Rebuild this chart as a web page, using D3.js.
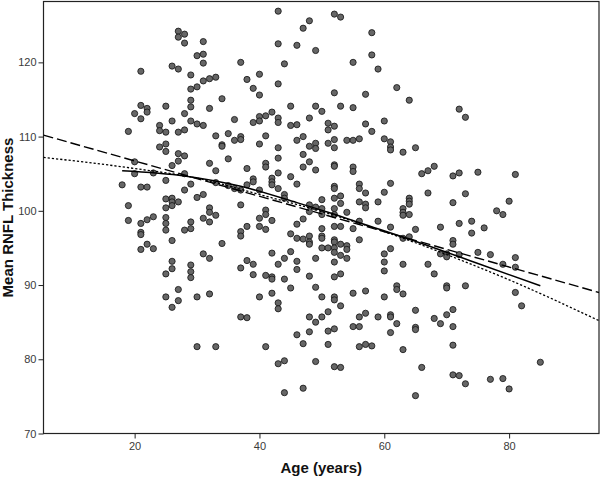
<!DOCTYPE html>
<html>
<head>
<meta charset="utf-8">
<script src="https://cdn.jsdelivr.net/npm/d3@7"></script>
<style>
  body { margin: 0; background: #fff; }
  svg { display: block; }
</style>
</head>
<body>
<div id="chart"></div>
<script>
// scatter data: age (years) and mean RNFL thickness
const ages = [
  27,27,28,28,31,30,31,31,21,26,27,29,30,29,31,32,33,34,29,29,32,21,22,22,20,21,25,28,26,24,24,25,27,28,29,30,31,36,19,33,35,34,34,25,36,
  43,48,47,52,53,58,43,46,49,37,44,55,58,59,40,38,43,39,40,52,57,62,64,45,49,50,53,55,42,40,41,43,43,39,40,48,45,46,51,52,51,57,60,58,41,37,37,46,47,49,48,51,52,54,55,56,60,61,40,
  72,73,
  24,25,27,28,27,26,20,20,23,32,33,35,18,21,22,25,28,29,28,33,35,36,30,31,25,26,26,27,26,25,19,32,32,33,31,32,25,25,23,22,21,19,21,21,25,29,29,28,26,22,23,21,34,31,32,26,26,25,29,29,29,
  43,49,52,61,61,63,65,43,41,41,38,47,48,47,49,52,52,55,55,43,45,46,39,39,42,42,42,38,37,40,43,44,44,52,52,53,53,52,56,56,57,56,57,57,59,60,61,66,67,67,64,64,64,63,63,64,63,
  37,37,37,38,41,41,40,42,40,41,45,46,47,48,48,48,46,47,48,48,49,50,50,50,52,52,54,52,53,55,56,50,50,50,56,59,61,65,63,64,52,52,53,54,54,50,51,52,52,53,54,52,49,46,46,45,44,42,43,42,42,41,44,48,52,53,38,39,39,37,60,61,60,60,63,67,62,62,57,
  68,71,72,75,81,71,73,80,78,79,69,72,74,74,76,71,71,69,70,70,72,75,77,81,79,81,68,
  27,25,27,26,30,32,30,33,
  45,49,40,42,43,43,37,38,50,52,52,53,55,60,63,48,49,50,51,56,57,59,61,61,65,46,48,51,52,55,56,61,62,65,65,41,47,51,56,57,58,63,43,44,49,52,53,47,44,65,
  70,70,73,81,82,71,70,68,69,71,71,66,71,72,73,77,79,80,85
];
const thickness = [
  124.2,123.4,123.8,122.6,122.8,120.9,121.1,119.9,118.8,119.5,119.1,118.3,116.7,116.4,117.5,117.8,118.0,115.1,114.9,114.0,113.8,114.2,113.8,113.3,113.1,112.4,114.1,113.1,112.1,111.5,110.8,110.6,110.6,110.9,112.1,111.7,111.5,112.3,110.7,110.1,110.4,108.9,108.7,109.0,109.5,
  126.9,125.6,124.6,126.5,126.1,124.0,122.5,122.3,121.6,120.0,119.8,120.0,121.0,119.1,118.4,117.7,117.1,116.5,115.6,115.9,115.7,116.6,114.9,114.1,114.1,113.4,114.1,113.9,113.3,112.7,112.8,112.5,111.9,111.9,112.1,112.5,111.5,111.6,111.8,111.4,110.9,111.7,112.1,110.7,110.1,110.0,109.6,109.5,110.0,109.1,108.7,109.1,109.6,109.5,109.5,109.7,109.7,109.3,109.0,
  113.7,112.6,
  108.6,108.0,107.7,107.4,106.7,106.1,106.6,105.0,105.1,106.4,105.4,107.0,103.5,103.2,103.2,104.1,105.0,103.6,102.8,103.8,103.4,103.0,101.8,102.2,101.6,101.7,101.2,101.2,100.7,100.4,100.7,100.4,99.8,99.4,99.0,98.5,99.1,98.3,99.2,98.8,98.3,98.7,97.1,96.8,97.4,98.5,97.6,97.4,96.0,95.5,94.9,94.8,95.6,94.2,93.6,93.2,92.2,91.5,92.7,91.8,91.0,
  108.5,108.4,108.5,108.6,108.2,107.9,108.5,107.1,106.4,105.9,105.7,107.6,106.6,105.9,105.5,106.2,106.0,105.9,105.3,105.1,104.6,103.6,104.3,103.9,104.4,103.9,103.5,103.5,102.8,102.8,103.0,102.2,101.7,103.3,103.0,102.0,101.0,101.7,103.6,103.0,102.4,101.2,100.9,100.4,101.2,102.5,103.7,105.0,105.4,102.4,101.7,101.3,100.9,100.3,99.8,99.5,99.4,
  100.8,97.2,96.6,97.9,100.1,99.5,99.0,98.7,97.9,97.5,96.9,96.3,96.2,96.6,95.8,95.5,98.2,98.9,100.8,99.9,100.5,101.5,100.3,99.5,100.3,99.5,99.8,97.9,97.9,97.6,98.6,97.6,96.6,96.3,96.1,98.6,97.8,97.5,96.3,96.5,96.1,95.8,95.5,95.3,94.8,95.0,95.0,95.0,94.4,94.0,93.6,93.1,93.6,93.2,92.1,94.5,93.6,94.3,92.8,91.1,90.8,91.3,90.8,91.2,91.1,91.5,93.3,92.8,91.4,92.3,94.2,94.9,93.1,91.9,92.8,92.8,89.9,89.4,89.2,
  106.0,104.7,105.1,105.2,104.9,101.1,102.3,101.3,100.0,99.5,97.8,98.3,98.6,97.0,97.7,96.0,95.5,94.2,94.2,93.8,94.1,94.4,94.1,93.7,92.8,92.4,91.5,
  89.4,88.4,87.9,87.0,88.4,88.8,81.7,81.7,
  89.6,89.7,88.4,88.9,87.6,86.8,85.7,85.6,88.4,88.4,88.0,87.2,88.9,88.4,88.8,85.7,85.0,85.7,86.4,85.7,86.2,85.7,86.0,85.7,86.6,83.3,83.7,83.8,84.1,84.4,84.4,83.6,84.8,84.3,84.0,81.7,82.1,82.0,81.7,82.0,81.8,81.3,79.4,79.8,79.7,79.0,78.9,76.1,75.5,75.1,
  89.9,89.6,89.9,89.0,87.2,86.7,86.0,85.5,84.8,84.4,81.9,78.9,77.9,77.8,76.7,77.3,77.4,76.0,79.6
];

// fit lines, points
const linearAge = [5.4, 94.4];
const linearVal = [110.2, 89.0];
const quadAge = [5.4, 20, 30, 40, 50, 60, 70, 80, 94.4];
const quadVal = [107.2, 105.7, 104.4, 102.2, 99.9, 97.2, 94.1, 90.7, 85.2];
const loessAge = [18, 28, 37, 46, 51, 56, 66, 75, 85];
const loessVal = [105.4, 104.7, 103.3, 101.1, 99.8, 98.4, 95.6, 92.9, 89.9];

// axis ticks
const xTicks = [20, 40, 60, 80];
const yTicks = [70, 80, 90, 100, 110, 120];
const xDomain = [5.4, 94.4];
const yDomain = [70, 128.2];

const W = 600, H = 480;
const plot = {left: 43.5, right: 599, top: 1.5, bottom: 433.5};

const x = d3.scaleLinear().domain(xDomain).range([plot.left, plot.right]);
const y = d3.scaleLinear().domain(yDomain).range([plot.bottom, plot.top]);

const svg = d3.select("#chart")
  .append("svg")
  .attr("width", W)
  .attr("height", H)
  .style("font-family", "'Liberation Sans', Arial, sans-serif");

svg.append("clipPath")
  .attr("id", "clip")
  .append("rect")
  .attr("x", plot.left)
  .attr("y", plot.top)
  .attr("width", plot.right - plot.left)
  .attr("height", plot.bottom - plot.top);

// frame
svg.append("rect")
  .attr("x", plot.left)
  .attr("y", plot.top)
  .attr("width", plot.right - plot.left)
  .attr("height", plot.bottom - plot.top)
  .attr("fill", "none")
  .attr("stroke", "#222")
  .attr("stroke-width", 1.2);

// y axis
svg.append("g")
  .attr("transform", `translate(${plot.left},0)`)
  .call(d3.axisLeft(y).tickValues(yTicks).tickSize(5).tickPadding(2).tickSizeOuter(0))
  .call(g => g.select(".domain").remove())
  .call(g => g.selectAll(".tick line").attr("stroke", "#222"))
  .selectAll(".tick text")
  .style("font-size", "11px")
  .style("fill", "#3a3a3a");

// x axis
svg.append("g")
  .attr("transform", `translate(0,${plot.bottom})`)
  .call(d3.axisBottom(x).tickValues(xTicks).tickSize(5).tickPadding(4).tickSizeOuter(0))
  .call(g => g.select(".domain").remove())
  .call(g => g.selectAll(".tick line").attr("stroke", "#222"))
  .selectAll(".tick text")
  .style("font-size", "11px")
  .style("fill", "#3a3a3a");

// points
const pts = ages.map((a, i) => ({age: a, val: thickness[i]}));
svg.append("g")
  .attr("clip-path", "url(#clip)")
  .selectAll("circle")
  .data(pts)
  .join("circle")
  .attr("cx", d => x(d.age))
  .attr("cy", d => y(d.val))
  .attr("r", 3.1)
  .attr("fill", "#666")
  .attr("stroke", "#111")
  .attr("stroke-width", 0.8);

// fit lines
const line = d3.line().x(d => x(d[0])).y(d => y(d[1]));
const curve = d3.line().x(d => x(d[0])).y(d => y(d[1])).curve(d3.curveMonotoneX);
const lines = svg.append("g").attr("clip-path", "url(#clip)").attr("fill", "none").attr("stroke", "#000");

lines.append("path")
  .attr("d", line(linearAge.map((a, i) => [a, linearVal[i]])))
  .attr("stroke-width", 1.4)
  .attr("stroke-dasharray", "10,4");

lines.append("path")
  .attr("d", curve(quadAge.map((a, i) => [a, quadVal[i]])))
  .attr("stroke-width", 1.3)
  .attr("stroke-dasharray", "2.2,2");

lines.append("path")
  .attr("d", curve(loessAge.map((a, i) => [a, loessVal[i]])))
  .attr("stroke-width", 1.5);

// axis titles
svg.append("text")
  .attr("x", (plot.left + plot.right) / 2)
  .attr("y", 473)
  .attr("text-anchor", "middle")
  .style("font-size", "15px")
  .style("font-weight", "bold")
  .attr("fill", "#111")
  .text("Age (years)");

svg.append("text")
  .attr("transform", `translate(13,${(plot.top + plot.bottom) / 2}) rotate(-90)`)
  .attr("text-anchor", "middle")
  .style("font-size", "15px")
  .style("font-weight", "bold")
  .attr("fill", "#111")
  .text("Mean RNFL Thickness");
</script>
</body>
</html>
